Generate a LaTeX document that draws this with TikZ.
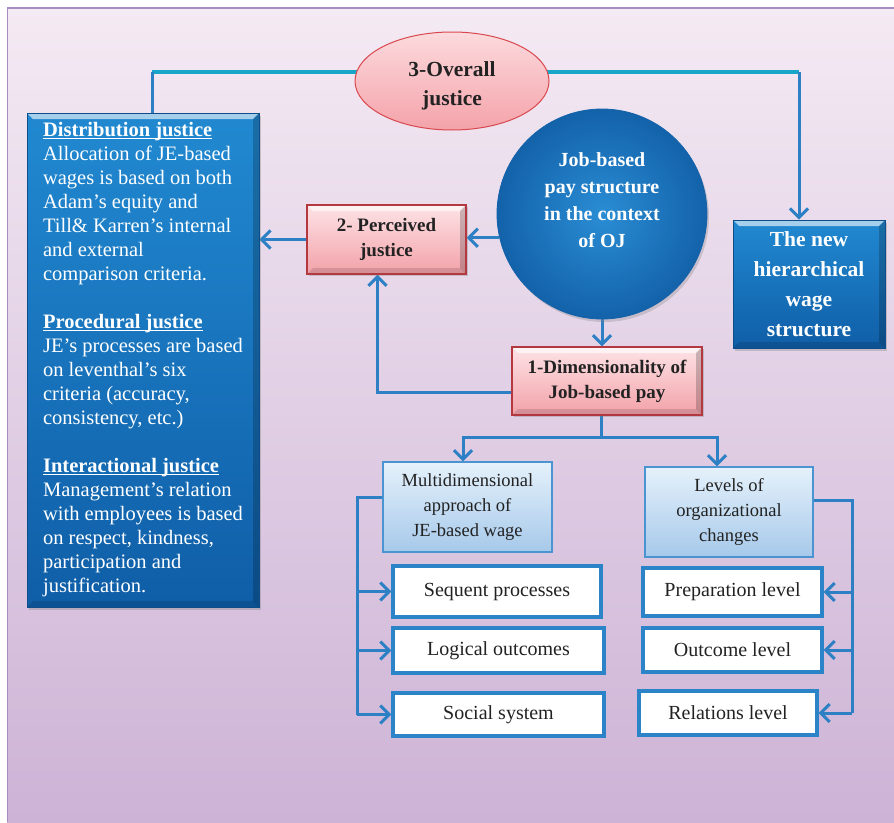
\documentclass[tikz,border=0pt]{standalone}
\usepackage{fontspec}
\setmainfont{Liberation Serif}
\usetikzlibrary{arrows.meta,shapes.geometric,shadows,backgrounds}
\definecolor{bgtop}{HTML}{F4EAF3}
\definecolor{bgbot}{HTML}{CDB3D6}
\definecolor{bgline}{HTML}{A98DC2}
\definecolor{connc}{HTML}{2C80C3}
\definecolor{tealc}{HTML}{17A6C8}
\definecolor{pinktop}{HTML}{FDE3E6}
\definecolor{pinkbot}{HTML}{F2A1A8}
\definecolor{pinkdraw}{HTML}{B4383F}
\definecolor{elltop}{HTML}{FCDADD}
\definecolor{ellbot}{HTML}{F4A3AA}
\definecolor{elldraw}{HTML}{D9484E}
\definecolor{bluetop}{HTML}{2189D1}
\definecolor{bluebot}{HTML}{0F5EA7}
\definecolor{bluedraw}{HTML}{0D4D8A}
\definecolor{circin}{HTML}{2A8DD4}
\definecolor{circout}{HTML}{1362AA}
\definecolor{ltop}{HTML}{E5F1FB}
\definecolor{lbot}{HTML}{A6C9EA}
\definecolor{ldraw}{HTML}{4A94D2}
\definecolor{wdraw}{HTML}{2A84C7}
\definecolor{txt}{HTML}{222222}
\newcommand\fsz[2]{\fontsize{#1}{#2}\selectfont}
\newcommand\myul[1]{\leavevmode\setbox0\hbox{#1}\rlap{\rule[-2.2pt]{\wd0}{1.3pt}}\box0}
\newcommand\hdr[1]{\textbf{\myul{#1}}}
\tikzset{
  bevel/.style={path picture={
    \fill[white,opacity=0.6] (path picture bounding box.north west) -- (path picture bounding box.north east)
      -- ([xshift=-6pt,yshift=-6pt]path picture bounding box.north east) -- ([xshift=6pt,yshift=-6pt]path picture bounding box.north west) -- cycle;
    \fill[black,opacity=0.2] (path picture bounding box.south east) -- (path picture bounding box.north east)
      -- ([xshift=-6pt,yshift=-6pt]path picture bounding box.north east) -- ([xshift=-6pt,yshift=6pt]path picture bounding box.south east) -- cycle;
    \fill[black,opacity=0.12] (path picture bounding box.south west) -- (path picture bounding box.south east)
      -- ([xshift=-6pt,yshift=6pt]path picture bounding box.south east) -- ([xshift=6pt,yshift=6pt]path picture bounding box.south west) -- cycle;}},
  pinkbox/.style={rectangle, draw=pinkdraw, line width=1.4pt, top color=pinktop, bottom color=pinkbot,
    bevel, align=center, text=txt, font=\bfseries\fsz{19}{25},
    drop shadow={shadow xshift=2pt, shadow yshift=-2pt, opacity=0.35}},
  bluebox/.style={rectangle, draw=bluedraw, line width=0.8pt, top color=bluetop, bottom color=bluebot,
    bevel, text=white, drop shadow={shadow xshift=2pt, shadow yshift=-3pt, opacity=0.35}},
  lightbox/.style={rectangle, draw=ldraw, line width=1.3pt, top color=ltop, bottom color=lbot,
    align=center, text=txt, font=\fsz{18.5}{25}},
  whitebox/.style={rectangle, draw=wdraw, line width=3.2pt, fill=white, text=txt, font=\fsz{20}{24}},
  conn/.style={draw=connc, line width=3pt},
  tealline/.style={draw=tealc, line width=4pt},
  arr/.style={conn, -{Straight Barb[length=9pt,width=18pt]}},
}
\begin{document}
\begin{tikzpicture}[x=1pt,y=-1pt]
\useasboundingbox (0,0) rectangle (894,822);
% nodes
\node[ellipse, draw=elldraw, line width=1pt, top color=elltop, bottom color=ellbot,
      minimum width=194pt, minimum height=98pt] (ovr) at (452,81) {};
\node[align=center, text=txt, font=\bfseries\fsz{21.5}{29}] (ovrt) at (452,86) {3-Overall\\justice};
\node[bluebox, minimum width=232pt, minimum height=494pt, align=left, font=\fsz{20.5}{24}] (dist) at (143,360)
  {\hdr{Distribution justice}\\
   Allocation of JE-based\\
   wages is based on both\\
   Adam’s equity and\\
   Till\& Karren’s internal\\
   and external\\
   comparison criteria.\\[24pt]
   \hdr{Procedural justice}\\
   JE’s processes are based\\
   on leventhal’s six\\
   criteria (accuracy,\\
   consistency, etc.)\\[24pt]
   \hdr{Interactional justice}\\
   Management’s relation\\
   with employees is based\\
   on respect, kindness,\\
   participation and\\
   justification.\rule[-5pt]{0pt}{5pt}};
\node[pinkbox, minimum width=159pt, minimum height=69pt] (perc) at (386.5,239.5) {2- Perceived\\justice};
\node[circle, shading=radial, inner color=circin, outer color=circout, draw=circout, line width=0.8pt,
      minimum size=210pt, drop shadow={shadow xshift=2pt, shadow yshift=-3pt, opacity=0.3}] (job) at (602,214) {};
\node[align=center, text=white, font=\bfseries\fsz{20}{27}] (jobt) at (602,200)
  {Job-based\\pay structure\\in the context\\of OJ};
\node[bluebox, minimum width=152pt, minimum height=128pt, align=center, font=\bfseries\fsz{21.5}{30}] (newh) at (809,284)
  {The new\\hierarchical\\wage\\structure};
\node[pinkbox, minimum width=190pt, minimum height=68pt] (dim) at (607,381) {1-Dimensionality of\\Job-based pay};
\node[lightbox, minimum width=169pt, minimum height=90pt] (multi) at (467.5,507)
  {Multidimensional\\approach of\\JE-based wage};
\node[lightbox, minimum width=168pt, minimum height=90pt] (levels) at (729,512)
  {Levels of\\organizational\\changes};
\node[whitebox, minimum width=208pt, minimum height=51pt] (seq) at (497,591.5) {Sequent processes};
\node[whitebox, minimum width=211pt, minimum height=45pt] (logi) at (498.5,650.5) {Logical outcomes};
\node[whitebox, minimum width=211pt, minimum height=43pt] (soc) at (498.5,714.5) {Social system};
\node[whitebox, minimum width=179pt, minimum height=48pt] (prep) at (732.5,592) {Preparation level};
\node[whitebox, minimum width=179pt, minimum height=44pt] (outc) at (732.5,650) {Outcome level};
\node[whitebox, minimum width=178pt, minimum height=44pt] (rel) at (728,713) {Relations level};
\coordinate (tl) at (152,72);
\coordinate (tr) at (799,72);
\coordinate (lb) at (357,497);
\coordinate (rb) at (852,500);
\begin{pgfonlayer}{background}
  \shade[top color=bgtop, bottom color=bgbot] (7,8) rectangle (894,822);
  \draw[bgline, line width=1.6pt] (7,8) -- (894,8);
  \draw[bgline, line width=0.8pt] (7,8) -- (7,822);
  % connectors
  \draw[tealline] ([yshift=9pt]ovr.center) -- (tl);
  \draw[tealline] ([yshift=9pt]ovr.center) -- (tr);
  \draw[conn] (tl) -- (tl |- dist.north);
  \draw[arr] (tr) -- (tr |- newh.north);
  \draw[arr] (perc.west) -- (perc.west -| dist.east);
  \draw[arr] (job.193) -- (job.193 -| perc.east);
  \draw[arr] (job.south) -- (job.south |- dim.north);
  \draw[arr] ([yshift=-11pt]dim.west) -| ([xshift=-9pt]perc.south);
  \draw[conn] ([xshift=-6pt]dim.south) -- ++(0,22) coordinate (sp);
  \draw[arr] (sp) -| ([xshift=-4.5pt]multi.north);
  \draw[arr] (sp) -| ([xshift=-12pt]levels.north);
  \draw[conn] ([yshift=10pt]multi.west) -- (lb) -- (lb |- soc.west);
  \draw[arr] (lb |- seq.west) -- (seq.west);
  \draw[arr] (lb |- logi.west) -- (logi.west);
  \draw[arr] (lb |- soc.west) -- (soc.west);
  \draw[conn] ([yshift=12pt]levels.east) -- (rb) -- (rb |- rel.east);
  \draw[arr] (rb |- prep.east) -- (prep.east);
  \draw[arr] (rb |- outc.east) -- (outc.east);
  \draw[arr] (rb |- rel.east) -- (rel.east);
\end{pgfonlayer}
\end{tikzpicture}
\end{document}
